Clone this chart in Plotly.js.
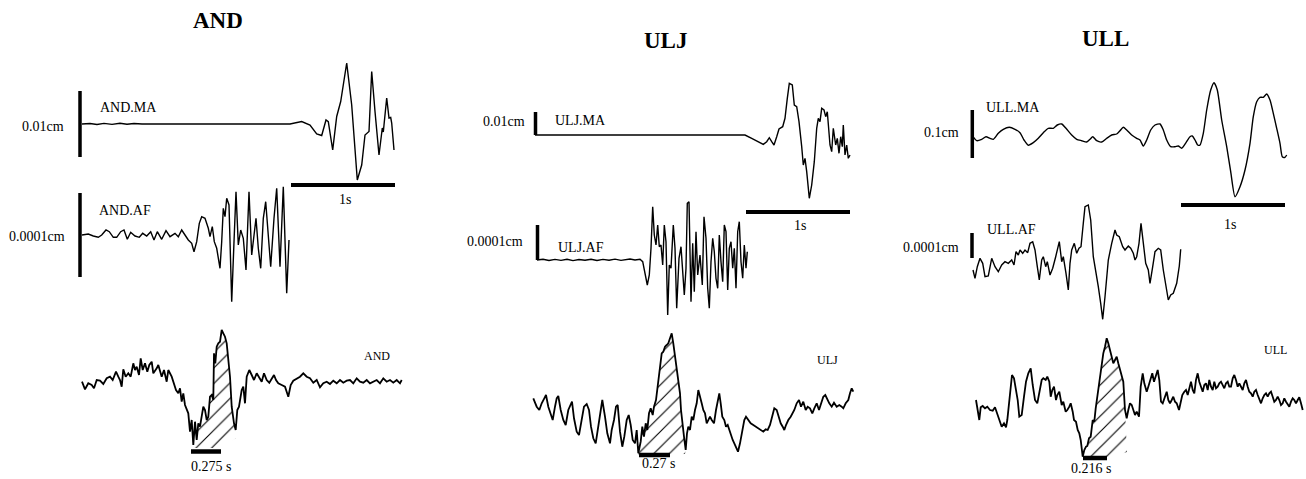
<!DOCTYPE html>
<html><head><meta charset="utf-8">
<script src="https://cdn.plot.ly/plotly-3.0.1.min.js"></script>
<style>html,body{margin:0;padding:0;background:#fff;overflow:hidden}</style>
</head><body><div id="chart" style="width:1306px;height:479px"></div>
<script>
// ---------------- DATA (time in ticks, 104 ticks = 1 s; amplitude in relative units) ----------------
const stations = ['AND', 'ULJ', 'ULL'];
const channelNames = ['AND.MA', 'AND.AF', 'ULJ.MA', 'ULJ.AF', 'ULL.MA', 'ULL.AF'];
const ampLabels = ['0.01cm', '0.0001cm', '0.01cm', '0.0001cm', '0.1cm', '0.0001cm'];
const timeBarLabel = '1s';
const durationLabels = ['0.275 s', '0.27 s', '0.216 s'];
const durationTicks = [30, 31, 24];
const ticksPerSecond = 104;

const andMA_t = [0,8,15,22,30,38,45,52,60,68,75,90,130,170,208,219.7,228,234.7,239.7,244,246.3,250.7,254.7,258.7,264.7,269.7,275.3,279.7,283,287,289.7,293,297,300.3,301.3,304.7,307,308.7,309.7,312];
const andMA_v = [0,0.5,-0.5,0.6,-0.4,0.8,-0.3,0.5,0,0.3,0,0,0,0,0,2.5,-1,-10,-11.5,4,2.3,-26,7.5,22.5,61,19,-56,-41,-11,-7.5,52.5,12.5,-31,-4,-8,26,6,6.5,1,-26];

const andAF_t = [0,6.3,11.3,16.3,19.7,24,27.3,31.3,34.7,38.7,42,45.3,48.7,53,57.3,60.7,64.7,68.7,72,75.3,79.7,84,88,93,96.3,99.7,103,106.3,109.7,112,114.7,117.3,119.7,123,126.3,128,130.3,132.3,134.7,138,139.7,141.3,143,144.7,147,149.7,152,154,156.3,158.7,161.3,164,167,169.7,174,176.3,178.7,181.3,183.7,185.7,188.7,192,194.7,198,201.3,204.7,207];
const andAF_v = [0,1,-1,-2.3,0,5,3.3,-2.3,-2.3,3.3,5,-4.3,2.7,-1,-2.3,1.7,-1,3.3,-5,3.3,-4.3,4.3,-1.7,1.7,-1.7,5,0,-5,-8.3,-16.7,-6.7,11.7,18.3,16.7,6.7,-1.7,8.3,-6.7,-13.3,-33.3,-6.7,26.7,18.3,36.7,30,-66.7,-6.7,43.3,-10,5,-3.3,-35,43.3,-20,16.7,-13.3,-33.3,16.7,33.3,6.7,-31.7,16.7,46.7,-31.7,48.3,-58.3,-5];

const uljMA_t = [0,60,120,180,210,216.7,223.3,228.3,231.7,234.3,236.7,239,241.7,244,247.7,250,252.3,254.3,257.3,259.3,261.7,264,266.7,268.3,270,271.7,274.3,276.7,279.3,281.7,283.3,285,286.7,289,290.7,292.3,295,296.7,298.3,300.7,302.3,304,305.7,307.3,308.3,310,311.7,313.3,315];
const uljMA_v = [0,0,0,0,0,-3.3,-6.7,-9.3,-6.7,-2.7,-6.7,-10,-1.7,6,8.3,16.7,36.7,51.7,50,30,28.3,13.3,-11.7,-30,-23.3,-36.7,-63.3,-50,-26.7,6.7,16.7,13.3,26.7,25,18.3,23.3,-10,-16.7,6.7,-10,-3.3,-18.3,-1.7,-11.7,10,-20,-10,-23.3,-20];

const uljAF_t = [0,6,12,18,24,30,36,42,48,54,60,66,72,78,84,90,93,98,103,105.7,108,110.3,112.3,114,115.7,117.3,119,120.7,122.3,124,125.7,127.3,129,130.7,132.3,134,136.3,138,139.7,142,144,145.7,147.3,149,150.3,152,154,155.7,157.3,159,160.7,163,165.3,167,169,170.7,172.3,174,175.7,177.3,179,180.7,182.3,184,185.7,187.3,189,190.7,192.3,194,195.7,197.3,199,200.7,202.3,204,205.7,207.3,209,210.3];
const uljAF_v = [0,0.8,-0.5,0.6,-0.4,0.7,-0.6,0.5,-0.3,0.8,-0.5,0.6,-0.2,0.9,-0.4,0.6,1,0,0.7,-1.7,-11.7,-25,-15,11.7,53.3,25,15,35,13.3,15,-5,35,18.3,-55,-5,-8.3,35,11.7,-48.3,1.7,13.3,-15,-35,-8.3,56.7,58.3,-41.7,16.7,-31.7,28.3,-15,5,-25,43.3,21.7,-28.3,-48.3,-1.7,21.7,8.3,-18.3,-28.3,25,-1.7,-21.7,35,28.3,-30,11.7,18.3,-8.3,11.7,-28.3,28.3,38.3,-1.7,-18.3,15,-8.3,8.3];

const ullMA_t = [0,3.7,8.7,13,17,20.3,25.3,30.3,36.3,42,47,51,55.3,60.3,65.3,70.3,75.3,80.3,84.3,88.7,93,98.7,103.7,108.7,113.7,117,119.7,123.7,128.7,133.7,138.7,143.7,147,150.3,153.7,158.7,163.7,167,170.3,173.7,177.7,182,187,190.3,193.7,197.7,202,205.3,208.7,213,217,219.3,222,224.7,227,230.3,233.7,237.7,241,244.3,248.7,253.7,257.7,262,267,272,277,280.3,283.7,287,290.3,293.7,297,300.3,303.7,307,309.3,312,313.7];
const ullMA_v = [-2.7,-6.7,-5.3,-2.7,-4.3,-5.3,0.7,4.7,6.7,4.7,1.3,-6,-11.3,-8.7,-4.3,1.3,5.7,5.7,9,10,5.7,-1,-5.3,-6.7,-8,-5.3,-2.7,-6.7,-8,-4.3,-1,0,3.3,6.7,4,-1,-4.3,-6,-12,-6,4,9,10,4,-6,-12.7,-12.7,-12,-14.3,-8.7,-2.7,-2,-6,-11,-11,0.7,24,44,51.3,44,14,-12.7,-37.7,-62.7,-52.7,-36,-9.3,17.3,32.3,36.7,36.7,40,34,20.7,5.7,-9.3,-22.7,-23.3,-21];

const ullAF_t = [0,2,4.3,7,9.7,12,15.3,18.7,22,25.3,28.7,32,35.3,38.7,41,43,45.3,47,49.7,52,54.7,57,59.7,62,64.3,66.3,68.7,70.3,72.7,74.3,77,79.7,82.7,84.3,86.3,88.7,90.3,93,95.3,97,98.7,101.3,103.7,106,108,110.3,112,115.3,117.7,120.3,122.7,125.3,127.7,129.7,132,135.3,138.7,142,143.7,146.3,149.7,152,155.3,157.7,160.3,162,163.7,166,168,170.3,172.7,175.3,177,179.7,182,185.3,187.7,190.3,193,195.3,197.7,200.3,203.7,206.3,207.7];
const ullAF_v = [-12,-20.3,-8.7,-0.3,-5.3,-18.7,-18,-0.3,-8.7,-13.7,-7,-3.7,-5.3,-2,-7,6.3,3,8,4.7,8,5.3,14.7,16.3,8,-8.7,-22,-2,1.3,-8.7,-3.7,-17,-10.3,1.3,8,16.3,-3.7,1.3,-15.3,-32,-5.3,8,14.7,4.7,9.7,11.3,34.7,51.3,53,38,1.3,-12,-28.7,-45.3,-61.3,-38.7,-2,14.7,28,23,21.3,11.3,8,12,9.7,4.7,-2,1.3,14.7,34.7,14.7,-5.3,-12,-25.3,-8.7,6.3,9.7,8,-12,-28.7,-42,-37,-35.3,-25.3,-8,8.7];

const andSum_t = [0,3,6.3,9.7,12,14.7,18,21.3,24.7,28,30.7,34,36.3,38,39.7,41.3,43.7,46.3,48.7,51.3,53,54.7,57,58.7,60.7,63,65.3,67.3,69.7,71.3,74.7,76.3,79.7,82,84.7,86.3,89.7,92,94,96.3,98,99.7,101.3,103,104.7,106.3,108,109.7,111.3,113,114.7,116.3,118,119.7,121.3,123,124.7,126.3,128,129.7,131.3,132,133.3,134.7,136.3,138,139.7,141.3,143,144.7,146.3,148,149.7,152,153.7,155.3,157,159.7,161.3,163,164.7,167.3,169.7,172,174.7,177.3,179.7,182,184.7,187.3,189.7,192,194,196.3,199.7,203,206.3,208.7,211.3,214.7,218,221.3,224.7,228,231.3,234.7,238,241.3,244.7,248,251.3,254.7,258,261.3,264.7,268,271.3,274.7,278,281.3,284.7,288,291.3,294.7,298,301.3,304.7,308,311.3,314.7,318,319.7];
const andSum_v = [0.3,-7.3,-1.3,-3,-6.3,2,1.3,-2,3.7,5.3,2,10.3,5.3,2,-4.7,12.7,5.3,8.7,5.3,18.7,12,15.3,7,23.7,12,18.7,10.3,17,20.3,8.7,13.7,17,5.3,12,0.3,12,5.3,-3,-8,-11.3,-6.3,-19.7,-11.3,-23,-28,-31.3,-49.7,-38,-63,-39.7,-58,-41.3,-44.7,-34.7,-24.7,-28,-38,-34.7,-14.7,-13,-18,28.7,18.7,35.3,38.7,40.3,52,48.7,45.3,38.7,22,5.3,-24.7,-41.3,-48,-28,-24.7,-8,-4.7,-21.3,5.3,12,7,2,8.7,3.7,0.3,8.7,2,-0.7,3.7,7,2,-1.3,-3,-4.7,-14.7,-3,1.3,3.7,5.3,8.7,5.3,3.7,-0.7,2,-5.3,-1.3,0.3,-2,1.3,-1.3,2,-0.7,1.3,2,-1.3,3.7,0.3,-0.7,2,-1.3,0.3,2,-1.3,3.7,0.3,2,-0.7,2,-1.3,2];

const uljSum_t = [0.3,3.7,6.3,8.7,11.3,13,15.3,17.7,19.7,22,23.7,25.3,27.7,30.3,32.7,35.3,37,39,41,43.7,46,48.7,51,53.7,56,58,60.3,62.7,65.3,67.7,69.3,72,74.3,77,78.7,81,83,84.7,87,89.3,91.3,93.7,95.7,97.7,99.7,102,103.7,105.3,107.7,109.3,111,112.7,114.3,116,117.7,119.7,121,123,124.7,127,128.7,130.3,132,133.7,135.3,137,138.7,140.3,142,143.7,145.3,147,148,149.3,151,152.7,154,155.3,157,158.7,160.3,162,163.7,165.3,167,168.7,170.3,172,173.7,175.3,177,178.7,181,183,184.7,186.3,187.7,189.3,191.3,193,194.7,196.3,198,199.7,201.3,203,205,207,209.3,211.3,213,215.3,217.7,220.3,223,225.3,227.7,230.3,232.7,234.7,237,239.3,241.3,243.7,245.7,247.7,249.7,251.3,253,255.3,257.7,259.7,261.3,263.7,266,268,270.3,272.7,274.7,277,279.3,281.3,283.7,286,288,290.3,292.3,294.3,296.3,298.7,301,303.7,306.3,308.7,310.3,312.7,315.3,317,318.7,320.3];
const uljSum_v = [11.7,3.3,0,6.7,11.7,15,3.3,-3.3,-10,3.3,11.7,14,0,-10,-15,0,3.3,8.3,-8.3,-21.7,-25,-10,3.3,6,0,-16.7,-28.3,-33.3,-16.7,-3.3,10,-6.7,-23.3,-33.3,-20,-10,3.3,5,-21.7,-36.7,-26.7,-10,-5,-15,-30,-33.3,-20,-43.3,-31.7,-16.7,-26.7,-13.3,-20,-3.3,1.7,-5,3.3,10,23.3,43.3,56.7,58.3,63.3,65,66.7,71.7,76.7,66.7,55,41.7,30,16.7,0,-13.3,-26.7,-40,-23.3,-16.7,-20,-6.7,-10,0,6.7,20,11.7,6.7,0,-3.3,-13.3,-10,-6.7,-10,-13.3,0,10,16.7,6.7,-6.7,-10,-16.7,-15,-20,-26.7,-30,-33.3,-36.7,-41.7,-33.3,-21.7,-10,-6.7,-10,-13.3,-15,-16.7,-18.3,-20,-21.7,-19.3,-20,-15,-6.7,1.7,0,-6.7,-13.3,-16.7,-20,-15,-10,-6.7,-3.3,0,6.7,10,3.3,8.3,0,3.3,1.7,-3.3,1.7,6.7,0,6.7,13.3,15,10,6.7,3.3,7.3,3.3,5,3.3,1.7,6.7,10,16.7,21.7,18.3];

const ullSum_t = [0,1.3,3.3,4.7,6.7,9,11.3,14,16.7,19,21.3,23.3,25.7,28,30,31.3,33.3,34.7,36,38,39.7,41.7,43.3,45.7,48,50,52.3,54.7,56.7,59,61.3,63.3,65.7,67.3,69.7,71.3,73.3,74.7,76.3,78,80,81.3,83.3,85.7,87.3,89.7,91.3,93.3,94.7,96.7,98,100,101.7,103.3,104.7,106.7,108.3,110,111.3,113,114.7,116.7,118.3,119.7,121.7,124,125.7,127.3,129,130.7,132.3,134,135.7,137.3,139,140.7,142.3,144,145.7,147.3,149,150.7,152.3,154,155.7,157.3,159,160.7,163,164.7,166.7,168.3,170.7,172.3,174,176.3,178,180,181.7,183.3,185,186.7,189,190.7,192.3,194,195.7,197.3,199,200.7,203,204.7,206.3,208.3,210,211.7,213.3,215,216.7,218.3,220,221.7,223.3,225,226.7,228.3,230,231.7,233.3,235,236.7,238.3,240,241.7,243.3,245,246.7,248.3,250,251.7,253.3,255,256.7,258.3,260,261.7,263.3,265,266.7,268.3,270,271.7,273.3,275,276.7,278.3,280,281.7,283.3,285,286.7,288.3,290,291.7,293.3,295,296.7,298.3,300,301.7,303.3,305,306.7,308.3,310,311.7,313.3,315,316.7,318.3,320,321.7,323.3,325,326.7];
const ullSum_v = [7,-3,-13,-0.3,1,-1.3,0.3,-3,-3.7,-0.3,-6.3,-13,-19.7,-16.3,-20.3,-13,3.7,20.3,32,28.7,20.3,7,-9.7,-8,10.3,25.3,33.7,38.7,22,7,3.7,15.3,27,28.7,27,30.3,25.3,10.3,17,20.3,7,12,15.3,2,5.3,-4.7,-3,0.3,3.7,-4.7,-13,-14.7,-23,-26.3,-33,-49.7,-43,-39.7,-39,-31.3,-29.7,-13,-14.7,-1.3,13.7,27,40.3,53.7,60.3,68.7,63.7,57,48.7,43.7,47,50.3,43.7,37,30.3,25.3,-3,-11.3,-3,3.7,2,-3,-8,-4.7,-9.7,20.3,33.7,23.7,15.3,20.3,27,33.7,25.3,32,37,27,5.3,3.7,10.3,15.3,7,3.7,7,10.3,5.3,3.7,-3,7,12,15.3,17,12,20.3,25.3,17,13.7,27,33.7,25.3,20.3,15.3,22,23.7,17,27,20.3,17,25.3,18.7,20.3,23.7,25.3,22,18.7,23.7,25.3,20.3,20.3,28.7,32,27,20.3,23.7,20.3,17,23.7,27,20.3,15.3,13.7,10.3,15.3,17,12,8.7,3.7,8.7,12,13.7,10.3,13.7,15.3,10.3,5.3,7,10.3,7,2,3.7,8.7,5.3,2,0.3,5.3,8.7,7,3.7,7,9.7,3.7,-3];

// hatched pulse: waveform between these ticks, closed by these points
const hatchFrom = [111.3, 105.3, 106.7];
const hatchTo = [152, 151, 147.3];
const andHatchClose_t = [153.7, 154, 138, 111.3], andHatchClose_v = [-48, -56, -66, -66];
const uljHatchClose_t = [152.7, 152, 105.3], uljHatchClose_v = [-40, -44, -45];
const ullHatchClose_t = [149, 151, 135, 106.7], ullHatchClose_v = [-3, -45, -50, -50];

// amplitude scale bars (top, bottom) per channel
const ampBarTop = [33, 42, 23, 35, 24, 25];
const ampBarBottom = [-33, -42, 0, 0, -24, 0];

// ---------------- LAYOUT HELPERS ----------------
const W = 1306, H = 479;
const FONT = 'Liberation Serif, Times New Roman, serif';
// subplot placement: x0 = pixel of tick 0, yb = pixel of amplitude 0
const place = [
  {x0: 82, yb: 124}, {x0: 82, yb: 235},
  {x0: 535, yb: 135}, {x0: 537, yb: 260},
  {x0: 973, yb: 134}, {x0: 973, yb: 258},
  {x0: 82, yb: 382}, {x0: 533, yb: 410}, {x0: 976, yb: 407}
];
const series = [
  [andMA_t, andMA_v], [andAF_t, andAF_v],
  [uljMA_t, uljMA_v], [uljAF_t, uljAF_v],
  [ullMA_t, ullMA_v], [ullAF_t, ullAF_v],
  [andSum_t, andSum_v], [uljSum_t, uljSum_v], [ullSum_t, ullSum_v]
];
const hatchClose = [[andHatchClose_t, andHatchClose_v], [uljHatchClose_t, uljHatchClose_v], [ullHatchClose_t, ullHatchClose_v]];
const ampBarTick = [-2, -2, 0.5, 0.5, -0.7, -1];
const timeBarStart = [209, 211, 208]; // on the MA subplot of each station
const timeBarLevel = [-61, -77, -71];
const durBarStart = [109, 106, 107];
const durBarLevel = [-69.5, -45, -51];

const traces = [];
const layout = {
  width: W, height: H, margin: {l: 0, r: 0, t: 0, b: 0},
  paper_bgcolor: '#ffffff', plot_bgcolor: 'rgba(0,0,0,0)',
  showlegend: false, annotations: []
};
const ax = k => (k === 1 ? '' : String(k));

place.forEach((p, i) => {
  const k = i + 1;
  const up = Math.min(85, p.yb), dn = Math.min(85, H - p.yb);
  layout['xaxis' + ax(k)] = {domain: [(p.x0 - 15) / W, Math.min(1, (p.x0 + 330) / W)], range: [-15, Math.min(330, W - p.x0)],
    visible: false, fixedrange: true, anchor: 'y' + ax(k)};
  layout['yaxis' + ax(k)] = {domain: [(H - p.yb - dn) / H, (H - p.yb + up) / H], range: [-dn, up],
    visible: false, fixedrange: true, anchor: 'x' + ax(k)};
  const xr = 'x' + ax(k), yr = 'y' + ax(k);
  const [t, v] = series[i];
  const isSum = i >= 6;
  if (isSum) {
    const s = i - 6;
    const hx = [], hy = [];
    t.forEach((tt, j) => { if (tt >= hatchFrom[s] && tt <= hatchTo[s]) { hx.push(tt); hy.push(v[j]); } });
    hatchClose[s][0].forEach((tt, j) => { hx.push(tt); hy.push(hatchClose[s][1][j]); });
    traces.push({x: hx, y: hy, xaxis: xr, yaxis: yr, mode: 'lines', fill: 'toself', line: {width: 0, color: 'rgba(0,0,0,0)'},
      fillcolor: 'rgba(255,255,255,0)',
      fillpattern: {shape: '/', size: 11, solidity: 0.1, fgcolor: '#000', bgcolor: 'rgba(255,255,255,0)'}, hoverinfo: 'skip'});
    traces.push({x: [durBarStart[s], durBarStart[s] + durationTicks[s]], y: [durBarLevel[s], durBarLevel[s]], xaxis: xr, yaxis: yr,
      mode: 'lines', line: {color: '#000', width: 4.5}, hoverinfo: 'skip'});
  } else {
    traces.push({x: [ampBarTick[i], ampBarTick[i]], y: [ampBarTop[i], ampBarBottom[i]], xaxis: xr, yaxis: yr,
      mode: 'lines', line: {color: '#000', width: 3.5}, hoverinfo: 'skip'});
    if (i % 2 === 0) {
      const s = i / 2;
      traces.push({x: [timeBarStart[s], timeBarStart[s] + 1 * ticksPerSecond], y: [timeBarLevel[s], timeBarLevel[s]], xaxis: xr, yaxis: yr,
        mode: 'lines', line: {color: '#000', width: 4}, hoverinfo: 'skip'});
    }
  }
  traces.push({x: t, y: v, xaxis: xr, yaxis: yr, mode: 'lines',
    line: {color: '#000', width: isSum ? 1.8 : 1.4, shape: (i === 4 ? 'spline' : 'linear'), smoothing: 0.6}, hoverinfo: 'skip'});
});

// ---------------- TEXT ----------------
function label(text, px, py, size, bold) {
  layout.annotations.push({text: bold ? '<b>' + text + '</b>' : text, xref: 'paper', yref: 'paper',
    x: px / W, y: 1 - py / H, xanchor: 'center', yanchor: 'middle', showarrow: false,
    font: {family: FONT, size: size, color: '#000'}});
}
const titlePos = [[218, 21], [665, 40], [1105, 38]];
stations.forEach((s, i) => label(s, titlePos[i][0], titlePos[i][1], 23, true));
const chanPos = [[128, 108], [125, 210], [580, 121], [581, 247], [1013, 107], [1011, 230]];
channelNames.forEach((c, i) => label(c, chanPos[i][0], chanPos[i][1], 14, false));
const ampPos = [[43, 126], [37, 236], [504, 122], [495, 242], [941, 132], [931, 247]];
ampLabels.forEach((c, i) => label(c, ampPos[i][0], ampPos[i][1], 14, false));
const secPos = [[345, 199], [800, 225], [1230, 224]];
secPos.forEach(p => label(timeBarLabel, p[0], p[1], 14, false));
const stPos = [[377, 356], [828, 360], [1275, 350]];
stations.forEach((s, i) => label(s, stPos[i][0], stPos[i][1], 12, false));
const durPos = [[211, 466], [658, 463], [1091, 468]];
durationLabels.forEach((d, i) => label(d, durPos[i][0], durPos[i][1], 14, false));

Plotly.newPlot('chart', traces, layout, {staticPlot: true, displayModeBar: false});
</script>
</body></html>
